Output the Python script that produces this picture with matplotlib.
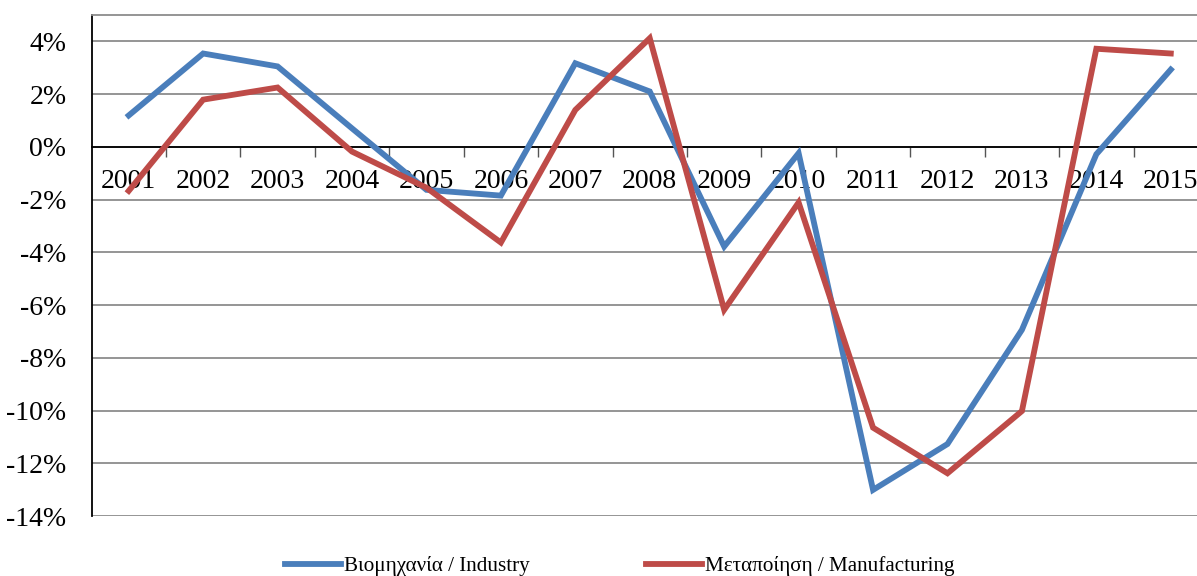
import numpy as np
import matplotlib.pyplot as plt
from matplotlib.ticker import FixedLocator, FuncFormatter

# Δεδομένα (ετήσια μεταβολή, %)
years = ["2001", "2002", "2003", "2004", "2005", "2006", "2007", "2008",
         "2009", "2010", "2011", "2012", "2013", "2014", "2015"]
industry = [1.19, 3.54, 3.05, 0.70, -1.63, -1.85, 3.17, 2.10,
            -3.78, -0.24, -13.01, -11.27, -6.94, -0.28, 2.93]
manufacturing = [-1.67, 1.79, 2.25, -0.18, -1.55, -3.63, 1.40, 4.12,
                 -6.18, -2.11, -10.65, -12.38, -10.02, 3.72, 3.54]
label_ind = "Βιομηχανία / Industry"
label_man = "Μεταποίηση / Manufacturing"

BLUE = "#4A7EBB"
RED = "#BE4B48"
GRID = "#8C8C8C"
FONT = "Liberation Serif"

plt.rcParams["font.family"] = [FONT, "DejaVu Serif"]

fig = plt.figure(figsize=(11.97, 5.76), dpi=100)
ax = fig.add_axes([91.5/1197, 60/576, (1208-91.5)/1197, (516-15)/576])

x = np.arange(len(years))
ax.plot(x, industry, color=BLUE, lw=4.2, solid_joinstyle="miter", label=label_ind, zorder=3)
ax.plot(x, manufacturing, color=RED, lw=4.2, solid_joinstyle="miter", label=label_man, zorder=3)

ax.set_xlim(-0.5, len(years) - 0.5)
ax.set_ylim(-14, 5)

# y axis
ax.yaxis.set_major_locator(FixedLocator(np.arange(-14, 5, 2)))
ax.yaxis.set_major_formatter(FuncFormatter(lambda v, p: f"{v:.0f}%"))
ax.tick_params(axis="y", length=0, pad=18, labelsize=20)
ax.grid(axis="y", color=GRID, lw=1.3, zorder=0)

# x axis crossing at 0
ax.spines["bottom"].set_position(("data", 0))
ax.spines["bottom"].set_color("black")
ax.spines["bottom"].set_linewidth(1.3)
ax.spines["left"].set_color("black")
ax.spines["left"].set_linewidth(1.3)
for s in ["top", "right"]:
    ax.spines[s].set_color(GRID)
    ax.spines[s].set_linewidth(1.3)

ax.xaxis.set_major_locator(FixedLocator(np.arange(0.5, len(years) - 0.5, 1)))
ax.xaxis.set_major_formatter(FuncFormatter(lambda v, p: ""))
ax.xaxis.set_minor_locator(FixedLocator(x))
ax.set_xticklabels(years, minor=True)
ax.tick_params(axis="x", which="major", direction="out", length=7, width=1, color="#555555")
ax.tick_params(axis="x", which="minor", length=0, pad=16, labelsize=20)

fig.legend(loc="center", bbox_to_anchor=(620/1197, 1 - 566/576), ncol=2,
           frameon=False, fontsize=15.2, handlelength=2.65, handletextpad=0.14,
           columnspacing=5.5)

fig.savefig("out.png", dpi=100)
